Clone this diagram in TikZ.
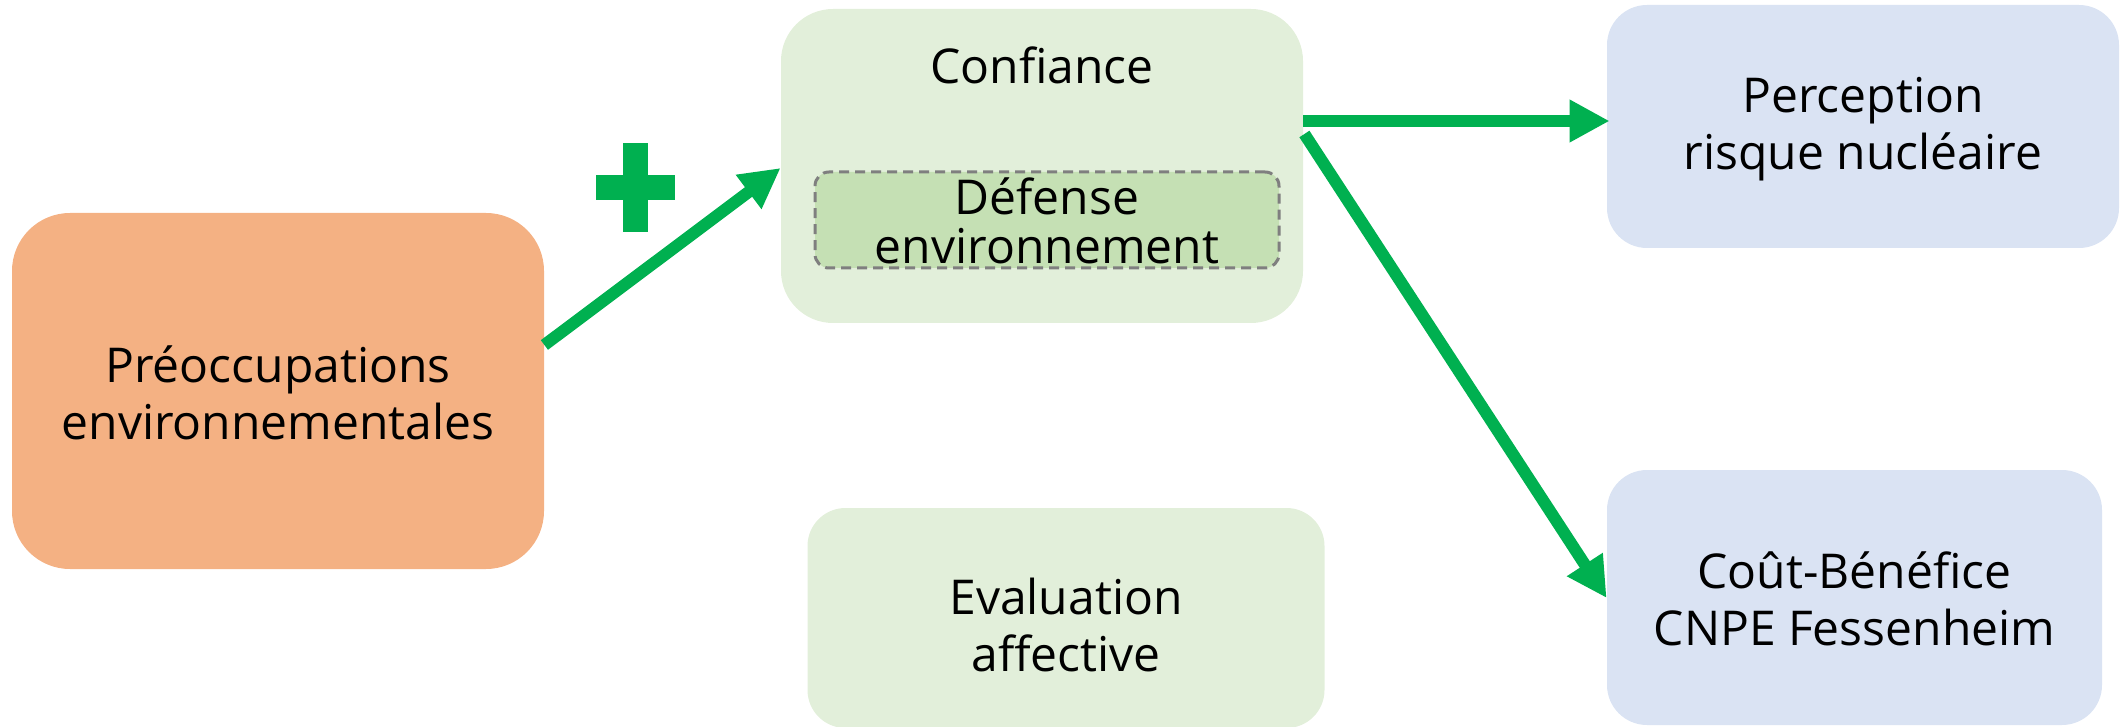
\documentclass[tikz,border=0pt]{standalone}
\usepackage{fontspec}
\setmainfont{Open Sans}
\usetikzlibrary{arrows.meta,calc}
\definecolor{orangebox}{HTML}{F4B183}
\definecolor{greenbox}{HTML}{E2EFDA}
\definecolor{greeninner}{HTML}{C5E0B4}
\definecolor{bluebox}{HTML}{DAE3F3}
\definecolor{arrowgreen}{HTML}{00B050}
\definecolor{dashgray}{HTML}{7F7F7F}
\tikzset{
  box/.style={rectangle, inner sep=0pt, align=center},
  lbl/.style={inner sep=0pt, align=center, font=\fontsize{24}{28.5}\selectfont},
  conn/.style={draw=arrowgreen, line width=6pt, -{Triangle[length=20pt,width=20pt]}},
}
\begin{document}
\begin{tikzpicture}[x=0.5pt,y=-0.5pt]
\useasboundingbox (0,0) rectangle (2126,727);
% boxes
\node[box, fill=orangebox, minimum width=266pt, minimum height=178pt, rounded corners=29pt] (pre) at (278,391) {};
\node[lbl] (pretxt) at (278,393) {Préoccupations\\environnementales};
\node[box, fill=greenbox, minimum width=261pt, minimum height=157pt, rounded corners=26pt] (conf) at (1042,166) {};
\node[lbl] (conftxt) at (1042,65) {Confiance};
\node[box, fill=greeninner, draw=dashgray, line width=1.5pt, dash pattern=on 5pt off 3pt, minimum width=232pt, minimum height=48pt, rounded corners=7pt] (def) at (1047,220) {};
\node[lbl, font=\fontsize{24}{24.5}\selectfont] (deftxt) at (1047,221) {Défense\\environnement};
\node[box, fill=greenbox, minimum width=258.5pt, minimum height=110pt, rounded corners=19pt] (eval) at (1066,618) {};
\node[lbl] (evaltxt) at (1066,625) {Evaluation\\affective};
\node[box, fill=bluebox, minimum width=256pt, minimum height=121.5pt, rounded corners=20pt] (perc) at (1863,126.5) {};
\node[lbl] (perctxt) at (1863,129) {Perception\\risque nucléaire};
\node[box, fill=bluebox, minimum width=247.5pt, minimum height=127.5pt, rounded corners=20pt] (cout) at (1854.5,597.5) {};
\node[lbl] (couttxt) at (1854.5,599) {Coût-Bénéfice\\CNPE Fessenheim};
% plus sign
\fill[arrowgreen] (623,143) rectangle (648,232);
\fill[arrowgreen] (596,175) rectangle (675,200);
% connectors
\draw[conn] ($(pre.east)+(0,-46)$) -- ($(conf.west)+(0,2)$);
\draw[conn] ($(conf.east)+(0,-45)$) -- ($(perc.west)+(3,-5.5)$);
\draw[conn] ($(conf.east)+(1,-32)$) -- ($(cout.west)+(0,0.5)$);
\end{tikzpicture}
\end{document}
